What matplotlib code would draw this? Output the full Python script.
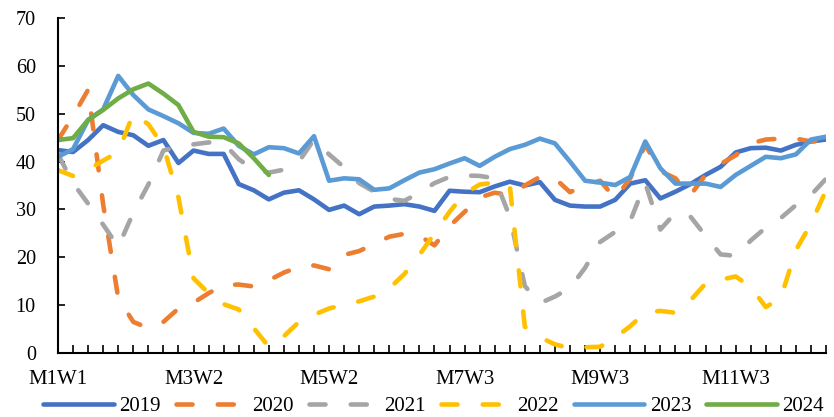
import numpy as np
import matplotlib
matplotlib.use("Agg")
import matplotlib.pyplot as plt

plt.rcParams['font.family'] = ['Liberation Serif', 'DejaVu Serif']

# weekly index, 52 weeks, labelled every 9th week
tick_pos = [0, 9, 18, 27, 36, 45]
tick_labels = ["M1W1", "M3W2", "M5W2", "M7W3", "M9W3", "M11W3"]

y2019 = [42.4, 42, 44.5, 47.6, 46.2, 45.5, 43.3, 44.5, 39.7, 42.3,
         41.6, 41.6, 35.3, 34, 32.1, 33.5, 34, 32.1, 29.9, 30.8,
         29.0, 30.6, 30.8, 31.1, 30.6, 29.7, 33.9, 33.7, 33.6, 34.8,
         35.8, 35, 35.7, 32, 30.8, 30.6, 30.6, 32, 35.4, 36.1,
         32.3, 33.7, 35.3, 37.2, 38.9, 41.9, 42.8, 42.9, 42.3, 43.5,
         44.2, 44.6]
y2020 = [44.5, 49.5, 55, 31, 11.5, 6.5, 5.2, 6.5, 9.3, 10.5,
         12.5, 14.2, 14.3, 13.9, 15.2, 16.8, 18, 18.3, 17.5, 20.5,
         21.3, 22.8, 24.3, 24.9, 24.5, 22.5, 26.5, 29.5, 32.5, 33.5,
         33, 35, 36.8, 36.5, 33.6, 35, 36, 32.3, 36.5, 43.5,
         38, 36.5, 33, 37.2, 39.5, 41.3, 43.8, 44.6, 44.8, 44.8,
         44.2, 44.5]
y2021 = [41.5, 35.5, 31.2, 26.8, 22.2, 29.3, 35.2, 42.3, 43.2, 43.6,
         44, 43.8, 40.5, 38.3, 37.7, 38.3, 40, 44.6, 41.5, 38.8,
         35.5, 33.7, 32.2, 31.8, 33.5, 35.5, 36.8, 37.1, 37, 36.5,
         28.5, 14, 10.4, 11.8, 13.6, 17.8, 23.2, 25.3, 27.6, 35.5,
         25.8, 29.3, 28.5, 24.5, 20.6, 20.3, 23.5, 26.2, 28.2, 30.9,
         33, 36.4]
y2022 = [38.2, 37, 38.3, 40.2, 42, 50, 47.8, 43.2, 32.5, 15.6,
         12.5, 10.2, 9.1, 5.2, 1.3, 3.5, 6.5, 8.0, 9.3, 10.1,
         10.8, 11.8, 13.5, 16.5, 20.5, 25, 29.5, 33.3, 35.2, 35.6,
         35, 5.5, 3.3, 1.8, 1.0, 1.2, 1.3, 3.2, 5.6, 8.5,
         8.8, 8.4, 11, 14.5, 15.3, 16, 13.8, 9.6, 11.5, 21.5,
         27, 34]
y2023 = [41, 42.6, 48.7, 50.9, 57.9, 53.9, 50.9, 49.5, 48, 46,
         45.8, 46.9, 43.3, 41.5, 43, 42.8, 41.7, 45.3, 36, 36.5,
         36.3, 34.1, 34.4, 36.1, 37.7, 38.4, 39.6, 40.7, 39.1, 41,
         42.6, 43.5, 44.8, 43.8, 40, 36, 35.6, 35.1, 36.8, 44.2,
         38.6, 35.4, 35.4, 35.4, 34.7, 37.2, 39.1, 41, 40.7, 41.5,
         44.6, 45.2]
y2024 = [44.5, 44.9, 48.7, 50.8, 53.2, 55.1, 56.3, 54.2, 51.8, 46.2,
         45.2, 45.1, 43.8, 40.7, 37.2]

series = [
    ("2019", y2019, "#4472C4", False),
    ("2020", y2020, "#ED7D31", True),
    ("2021", y2021, "#A5A5A5", True),
    ("2022", y2022, "#FFC000", True),
    ("2023", y2023, "#5B9BD5", False),
    ("2024", y2024, "#70AD47", False),
]

fig = plt.figure(figsize=(8.34, 4.17), dpi=100)
ax = fig.add_axes([58 / 834, 64 / 417, 768 / 834, 335 / 417])

for name, vals, color, dashed in series:
    x = np.arange(len(vals))
    line, = ax.plot(x, vals, color=color, lw=3.3, label=name,
                    solid_capstyle='round', solid_joinstyle='round')
    if dashed:
        line.set_dashes((3.5, 5.5))
        line.set_dash_capstyle('round')

ax.set_xlim(0, 51)
ax.set_ylim(0, 70)
ax.set_yticks(np.arange(0, 71, 10))
ax.set_xticks(tick_pos)
ax.set_xticklabels(tick_labels)
ax.set_xticks(np.arange(0, 52), minor=True)

for s in ["top", "right"]:
    ax.spines[s].set_visible(False)
for s in ["left", "bottom"]:
    ax.spines[s].set_linewidth(1.5)

ax.tick_params(axis='y', direction='in', length=5, width=1.2, labelsize=14.5, pad=16)
ax.tick_params(axis='x', which='both', direction='in', length=6, width=1.2,
               labelsize=15, pad=12)

fig.legend(loc='center', bbox_to_anchor=(0.52, 0.026), ncol=6, frameon=False,
           fontsize=15, handlelength=3.4, handletextpad=0.25, columnspacing=0.72,
           borderpad=0)

fig.savefig("out.png", dpi=100)
